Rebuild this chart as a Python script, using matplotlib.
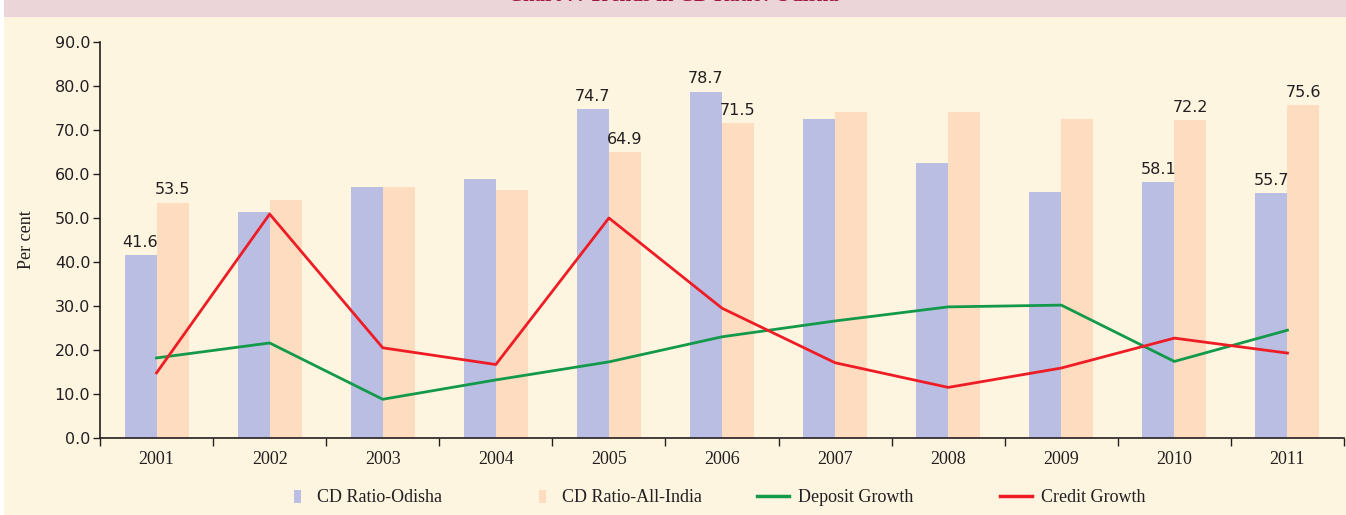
import matplotlib
matplotlib.use("Agg")
import matplotlib.pyplot as plt
import numpy as np
from matplotlib.patches import Rectangle
from matplotlib.lines import Line2D

years = ['2001', '2002', '2003', '2004', '2005', '2006', '2007', '2008', '2009', '2010', '2011']
cd_odisha = [41.6, 51.4, 57.0, 58.9, 74.7, 78.7, 72.6, 62.6, 55.9, 58.1, 55.7]
cd_india = [53.5, 54.1, 57.0, 56.3, 64.9, 71.5, 74.1, 74.1, 72.6, 72.2, 75.6]
deposit_growth = [18.2, 21.6, 8.8, 13.2, 17.3, 23.0, 26.6, 29.8, 30.2, 17.4, 24.5]
credit_growth = [14.8, 50.9, 20.5, 16.7, 50.0, 29.5, 17.1, 11.5, 15.9, 22.7, 19.3]
# bars that carry a value label
labelled = ['2001', '2005', '2006', '2010', '2011']

c_odisha = '#BABEE2'
c_india = '#FDDCC0'
c_dep = '#13994A'
c_cred = '#EE1C25'
bg = '#FEF5E1'
ink = '#231F20'

fig = plt.figure(figsize=(13.46, 5.15), dpi=100, facecolor='white')
fig.patches.append(Rectangle((0.003, 0), 0.997, 1, transform=fig.transFigure,
                             facecolor=bg, edgecolor='none', zorder=-2))
fig.patches.append(Rectangle((0.003, 1 - 17 / 515), 0.997, 17 / 515, transform=fig.transFigure,
                             facecolor='#EBD5D9', edgecolor='none', zorder=-1))
fig.text(0.5, 1 - 1 / 515, 'Chart 7: Trends in CD Ratio: Odisha', ha='center', va='baseline',
         fontsize=15, color='#A0173F', family='Liberation Serif', fontweight='bold')

ax = fig.add_axes([100 / 1346, 1 - 438 / 515, 1244 / 1346, 396 / 515])
ax.set_facecolor('none')

x = np.arange(len(years))
w = 0.283
ax.bar(x - w / 2, cd_odisha, w, color=c_odisha, zorder=2)
ax.bar(x + w / 2, cd_india, w, color=c_india, zorder=2)
ax.plot(x, deposit_growth, color=c_dep, lw=2, zorder=3)
ax.plot(x, credit_growth, color=c_cred, lw=2, zorder=3)

for i, yr in enumerate(years):
    if yr in labelled:
        ax.text(x[i] - w / 2, cd_odisha[i] + 1.2, f'{cd_odisha[i]:.1f}', ha='center', va='bottom',
                fontsize=11.5, color=ink)
        ax.text(x[i] + w / 2, cd_india[i] + 1.2, f'{cd_india[i]:.1f}', ha='center', va='bottom',
                fontsize=11.5, color=ink)

ax.set_xlim(-0.5, len(years) - 0.5)
ax.set_ylim(0, 90)
ax.set_yticks(np.arange(0, 91, 10))
ax.set_yticklabels([f'{v:.1f}' for v in np.arange(0, 91, 10)], fontsize=11.5, color=ink)
ax.set_xticks(x)
ax.set_xticklabels(years, family='Liberation Serif', fontsize=13, color=ink)
ax.set_xticks(np.arange(-0.5, len(years), 1), minor=True)
ax.tick_params(axis='x', which='major', length=0, pad=9)
ax.tick_params(axis='x', which='minor', length=6, width=1, color=ink)
ax.tick_params(axis='y', length=5, width=1, color=ink, pad=2)
for s in ['top', 'right']:
    ax.spines[s].set_visible(False)
for s in ['left', 'bottom']:
    ax.spines[s].set_color(ink)
    ax.spines[s].set_linewidth(1.2)
ax.set_ylabel('Per cent', family='Liberation Serif', fontsize=13, color=ink, labelpad=14)

# legend: one entry per legend so each can sit where the reference has it
entries = [
    (Rectangle((0, 0), 1, 1, facecolor=c_odisha), 'CD Ratio-Odisha', 294, 0.4, 0.9),
    (Rectangle((0, 0), 1, 1, facecolor=c_india), 'CD Ratio-All-India', 539, 0.4, 0.9),
    (Line2D([], [], color=c_dep, lw=2.5), 'Deposit Growth', 757, 1.75, 0.5),
    (Line2D([], [], color=c_cred, lw=2.5), 'Credit Growth', 1000, 1.75, 0.5),
]
for h, name, px, hl, pad in entries:
    leg = fig.legend([h], [name], loc='center left', bbox_to_anchor=(px / 1346, 1 - 498 / 515),
                     frameon=False, borderpad=0, borderaxespad=0, handlelength=hl,
                     handleheight=0.75, handletextpad=pad,
                     prop={'family': 'Liberation Serif', 'size': 13})
    for t in leg.get_texts():
        t.set_color(ink)

fig.savefig('out.png', dpi=100, facecolor=fig.get_facecolor())
